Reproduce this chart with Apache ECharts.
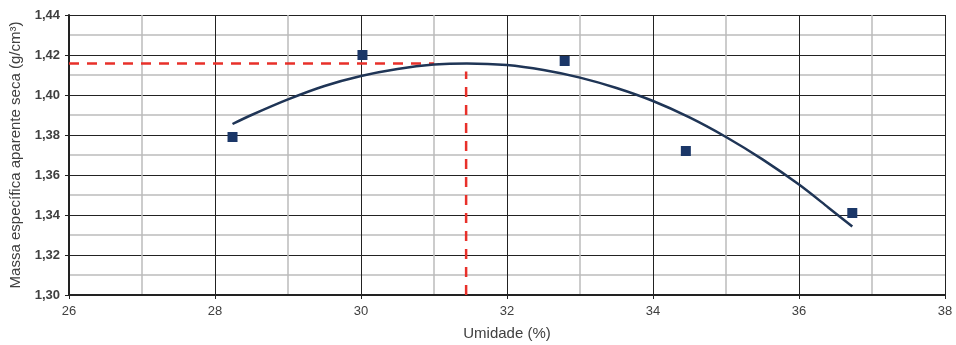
<!DOCTYPE html>
<html>
<head>
<meta charset="utf-8">
<script src="https://cdn.jsdelivr.net/npm/echarts@6/dist/echarts.min.js"></script>
<style>
  html, body { margin: 0; padding: 0; background: #fff; }
  #chart { width: 956px; height: 345px; }
</style>
</head>
<body>
<div id="chart"></div>
<script>
// measured points
const umidade = [28.24, 30.02, 32.79, 34.45, 36.73];
const massa = [1.379, 1.420, 1.417, 1.372, 1.341];

// trend curve
const curveX = [28.24, 28.5, 29, 29.5, 30, 30.5, 31, 31.45, 32, 32.5, 33, 33.5, 34, 34.5, 35, 35.5, 36, 36.4, 36.73];
const curveY = [1.3855, 1.3900, 1.3978, 1.4045, 1.4095, 1.4130, 1.4152, 1.4158, 1.4150, 1.4125, 1.4087, 1.4035, 1.3970, 1.3888, 1.3790, 1.3678, 1.3552, 1.3438, 1.3342];

// red guide lines (max density / optimum moisture)
const guideH = [[26, 1.4158], [31.0, 1.4158]];
const guideV = [[31.44, 1.30], [31.44, 1.4117]];

const chart = echarts.init(document.getElementById("chart"));

const labelFont = "Liberation Sans, Arial, sans-serif";

chart.setOption({
    animation: false,
    grid: {
        left: 69,
        right: 11,
        top: 15,
        bottom: 50,
        outerBoundsMode: "none"
    },
    xAxis: {
        type: "value",
        min: 26,
        max: 38,
        interval: 2,
        name: "Umidade (%)",
        nameLocation: "middle",
        nameGap: 31,
        nameTextStyle: { color: "#404040", fontSize: 15, fontFamily: labelFont, verticalAlign: "top" },
        axisLine: { show: true, onZero: false, lineStyle: { color: "#222", width: 2 } },
        axisTick: { show: true, length: 4, lineStyle: { color: "#222" } },
        axisLabel: { color: "#404040", fontSize: 13, fontFamily: labelFont, margin: 10 },
        splitLine: { show: true, lineStyle: { color: "#222", width: 1 } },
        minorTick: { show: false, splitNumber: 2 },
        minorSplitLine: { show: true, lineStyle: { color: "#bcbcbc", width: 1.5 } }
    },
    yAxis: {
        type: "value",
        min: 1.30,
        max: 1.44,
        interval: 0.02,
        name: "Massa específica aparente seca (g/cm³)",
        nameLocation: "middle",
        nameGap: 40,
        nameRotate: 90,
        nameTextStyle: { color: "#404040", fontSize: 15, fontFamily: labelFont },
        axisLine: { show: true, lineStyle: { color: "#222", width: 2 } },
        axisTick: { show: true, length: 4, lineStyle: { color: "#222" } },
        axisLabel: {
            color: "#404040",
            fontSize: 13,
            fontWeight: "bold",
            fontFamily: labelFont,
            margin: 9,
            formatter: v => v.toFixed(2).replace(".", ",")
        },
        splitLine: { show: true, lineStyle: { color: "#222", width: 1 } },
        minorTick: { show: false, splitNumber: 2 },
        minorSplitLine: { show: true, lineStyle: { color: "#bcbcbc", width: 1.5 } }
    },
    series: [
        {
            type: "line",
            data: guideH,
            symbol: "none",
            lineStyle: { color: "#e8302a", width: 2.5, type: [10, 8] },
            z: 3
        },
        {
            type: "line",
            data: guideV,
            symbol: "none",
            lineStyle: { color: "#e8302a", width: 2.5, type: [10, 8] },
            z: 3
        },
        {
            type: "line",
            data: curveX.map((x, i) => [x, curveY[i]]),
            symbol: "none",
            smooth: 0.3,
            lineStyle: { color: "#1f3556", width: 2.5 },
            z: 4
        },
        {
            type: "scatter",
            data: umidade.map((x, i) => [x, massa[i]]),
            symbol: "rect",
            symbolSize: 10,
            itemStyle: { color: "#1b3768", opacity: 1 },
            z: 5
        }
    ]
});
</script>
</body>
</html>
